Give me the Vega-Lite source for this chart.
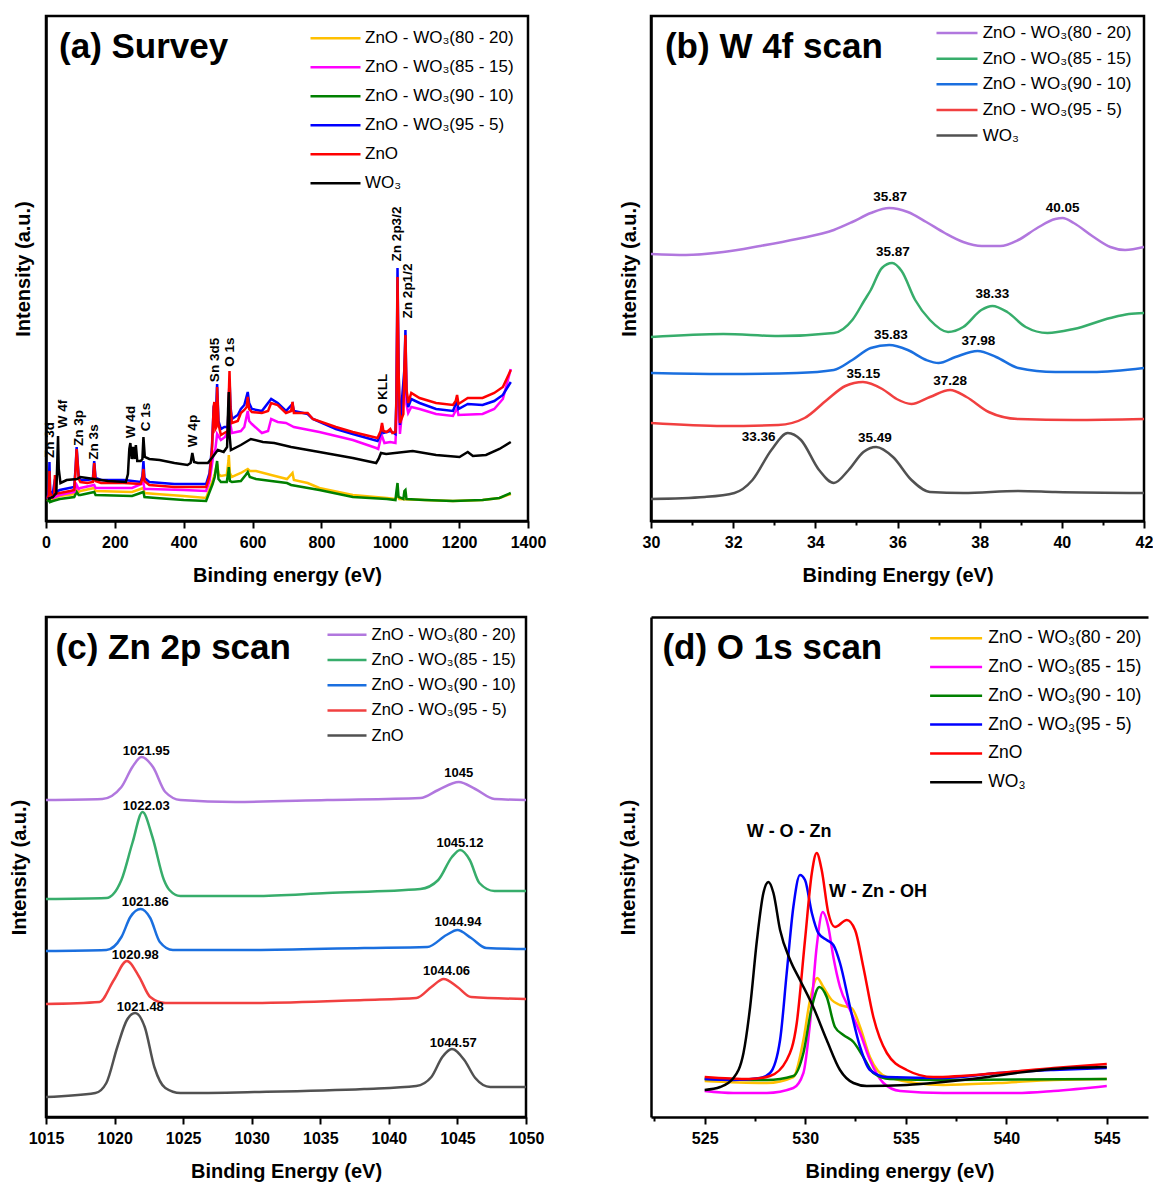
{
"$schema": "https://vega.github.io/schema/vega-lite/v6.json",
"background": "white",
"padding": {"left": 7, "top": 14, "right": 0, "bottom": 0},
"config": {
 "view": {"stroke": "black", "strokeWidth": 2.5},
 "font": "Liberation Sans",
 "axis": {"domainColor": "black", "domainWidth": 2.5, "tickColor": "black", "tickWidth": 2, "labelFont": "Liberation Sans", "labelFontWeight": "bold", "labelFontSize": 16, "labelColor": "black", "titleFont": "Liberation Sans", "titleFontWeight": "bold", "titleFontSize": 20, "titleColor": "black", "grid": false, "labelFlush": false, "labelOverlap": false},
 "legend": {"orient": "none", "symbolStrokeWidth": 2.5, "labelFont": "Liberation Sans", "labelColor": "black", "padding": 0, "symbolSize": 400},
 "text": {"font": "Liberation Sans", "fontWeight": "bold", "color": "black"}
},
"columns": 2,
"spacing": {"row": 96, "column": 123},
"bounds": "flush",
"align": "each",
"resolve": {"scale": {"x": "independent", "y": "independent", "color": "independent"}, "legend": {"color": "independent"}, "axis": {"x": "independent", "y": "independent"}},
"concat": [
{
"width": 482, "height": 505,
"layer": [
{
"data": {"values": [
{"s":"o","x":5,"y":18},{"s":"o","x":10,"y":24},{"s":"o","x":12,"y":19},{"s":"o","x":20,"y":20},{"s":"o","x":40,"y":23},{"s":"o","x":82,"y":25},{"s":"o","x":89,"y":30},{"s":"o","x":95,"y":27},{"s":"o","x":100,"y":28},{"s":"o","x":140,"y":31},{"s":"o","x":144,"y":28},{"s":"o","x":250,"y":27},{"s":"o","x":283,"y":31},{"s":"o","x":286,"y":26},{"s":"o","x":320,"y":25},{"s":"o","x":400,"y":23},{"s":"o","x":465,"y":21},{"s":"o","x":475,"y":30},{"s":"o","x":484,"y":38},{"s":"o","x":490,"y":45},{"s":"o","x":497,"y":55},{"s":"o","x":501,"y":45},{"s":"o","x":508,"y":43},{"s":"o","x":525,"y":44},{"s":"o","x":530,"y":58},{"s":"o","x":531,"y":64},{"s":"o","x":534,"y":46},{"s":"o","x":540,"y":42},{"s":"o","x":566,"y":46},{"s":"o","x":586,"y":50},{"s":"o","x":592,"y":48},{"s":"o","x":610,"y":48},{"s":"o","x":654,"y":44},{"s":"o","x":700,"y":40},{"s":"o","x":716,"y":46},{"s":"o","x":720,"y":39},{"s":"o","x":760,"y":36},{"s":"o","x":794,"y":31},{"s":"o","x":891,"y":24},{"s":"o","x":990,"y":21},{"s":"o","x":1015,"y":20},{"s":"o","x":1021,"y":24},{"s":"o","x":1026,"y":20},{"s":"o","x":1100,"y":19},{"s":"o","x":1182,"y":18},{"s":"o","x":1268,"y":19},{"s":"o","x":1317,"y":21},{"s":"o","x":1350,"y":25},
{"s":"g","x":5,"y":17},{"s":"g","x":10,"y":22},{"s":"g","x":12,"y":17},{"s":"g","x":20,"y":18},{"s":"g","x":40,"y":20},{"s":"g","x":82,"y":22},{"s":"g","x":89,"y":27},{"s":"g","x":95,"y":24},{"s":"g","x":100,"y":24},{"s":"g","x":140,"y":27},{"s":"g","x":144,"y":24},{"s":"g","x":250,"y":23},{"s":"g","x":283,"y":27},{"s":"g","x":286,"y":22},{"s":"g","x":320,"y":21},{"s":"g","x":400,"y":19},{"s":"g","x":465,"y":18},{"s":"g","x":475,"y":27},{"s":"g","x":484,"y":35},{"s":"g","x":490,"y":42},{"s":"g","x":497,"y":58},{"s":"g","x":501,"y":40},{"s":"g","x":508,"y":37},{"s":"g","x":525,"y":37},{"s":"g","x":530,"y":48},{"s":"g","x":531,"y":52},{"s":"g","x":534,"y":38},{"s":"g","x":540,"y":37},{"s":"g","x":566,"y":38},{"s":"g","x":580,"y":44},{"s":"g","x":586,"y":47},{"s":"g","x":592,"y":42},{"s":"g","x":610,"y":40},{"s":"g","x":654,"y":38},{"s":"g","x":700,"y":36},{"s":"g","x":712,"y":34},{"s":"g","x":794,"y":29},{"s":"g","x":891,"y":22},{"s":"g","x":990,"y":20},{"s":"g","x":1015,"y":19},{"s":"g","x":1018,"y":28},{"s":"g","x":1021,"y":36},{"s":"g","x":1024,"y":22},{"s":"g","x":1038,"y":20},{"s":"g","x":1041,"y":28},{"s":"g","x":1044,"y":29},{"s":"g","x":1047,"y":20},{"s":"g","x":1100,"y":19},{"s":"g","x":1182,"y":18},{"s":"g","x":1268,"y":19},{"s":"g","x":1317,"y":21},{"s":"g","x":1350,"y":26},
{"s":"m","x":5,"y":20},{"s":"m","x":10,"y":28},{"s":"m","x":12,"y":22},{"s":"m","x":20,"y":21},{"s":"m","x":40,"y":24},{"s":"m","x":82,"y":27},{"s":"m","x":89,"y":34},{"s":"m","x":95,"y":30},{"s":"m","x":100,"y":31},{"s":"m","x":140,"y":34},{"s":"m","x":144,"y":31},{"s":"m","x":250,"y":31},{"s":"m","x":283,"y":36},{"s":"m","x":286,"y":30},{"s":"m","x":300,"y":30},{"s":"m","x":400,"y":29},{"s":"m","x":465,"y":28},{"s":"m","x":475,"y":38},{"s":"m","x":487,"y":66},{"s":"m","x":492,"y":70},{"s":"m","x":497,"y":85},{"s":"m","x":508,"y":79},{"s":"m","x":520,"y":82},{"s":"m","x":531,"y":90},{"s":"m","x":533,"y":100},{"s":"m","x":540,"y":86},{"s":"m","x":566,"y":88},{"s":"m","x":576,"y":92},{"s":"m","x":586,"y":108},{"s":"m","x":590,"y":98},{"s":"m","x":598,"y":95},{"s":"m","x":627,"y":86},{"s":"m","x":645,"y":88},{"s":"m","x":654,"y":100},{"s":"m","x":673,"y":97},{"s":"m","x":697,"y":96},{"s":"m","x":720,"y":92},{"s":"m","x":794,"y":87},{"s":"m","x":891,"y":79},{"s":"m","x":959,"y":71},{"s":"m","x":965,"y":70},{"s":"m","x":972,"y":80},{"s":"m","x":976,"y":83},{"s":"m","x":983,"y":76},{"s":"m","x":1000,"y":77},{"s":"m","x":1015,"y":76},{"s":"m","x":1018,"y":100},{"s":"m","x":1021,"y":225},{"s":"m","x":1024,"y":130},{"s":"m","x":1028,"y":85},{"s":"m","x":1041,"y":130},{"s":"m","x":1044,"y":170},{"s":"m","x":1047,"y":115},{"s":"m","x":1052,"y":106},{"s":"m","x":1061,"y":112},{"s":"m","x":1085,"y":110},{"s":"m","x":1133,"y":105},{"s":"m","x":1182,"y":103},{"s":"m","x":1194,"y":111},{"s":"m","x":1198,"y":104},{"s":"m","x":1268,"y":105},{"s":"m","x":1302,"y":110},{"s":"m","x":1327,"y":120},{"s":"m","x":1350,"y":150},
{"s":"b","x":5,"y":21},{"s":"b","x":8,"y":28},{"s":"b","x":10,"y":57},{"s":"b","x":12,"y":28},{"s":"b","x":19,"y":24},{"s":"b","x":26,"y":40},{"s":"b","x":28,"y":27},{"s":"b","x":40,"y":29},{"s":"b","x":82,"y":32},{"s":"b","x":86,"y":52},{"s":"b","x":89,"y":72},{"s":"b","x":92,"y":57},{"s":"b","x":95,"y":43},{"s":"b","x":100,"y":39},{"s":"b","x":120,"y":39},{"s":"b","x":136,"y":40},{"s":"b","x":140,"y":58},{"s":"b","x":144,"y":41},{"s":"b","x":160,"y":39},{"s":"b","x":227,"y":39},{"s":"b","x":275,"y":37},{"s":"b","x":280,"y":43},{"s":"b","x":283,"y":58},{"s":"b","x":286,"y":41},{"s":"b","x":300,"y":37},{"s":"b","x":373,"y":35},{"s":"b","x":465,"y":35},{"s":"b","x":475,"y":46},{"s":"b","x":482,"y":72},{"s":"b","x":487,"y":112},{"s":"b","x":489,"y":115},{"s":"b","x":492,"y":93},{"s":"b","x":497,"y":135},{"s":"b","x":501,"y":98},{"s":"b","x":508,"y":90},{"s":"b","x":518,"y":92},{"s":"b","x":528,"y":92},{"s":"b","x":531,"y":118},{"s":"b","x":533,"y":140},{"s":"b","x":536,"y":112},{"s":"b","x":540,"y":100},{"s":"b","x":557,"y":104},{"s":"b","x":566,"y":110},{"s":"b","x":576,"y":114},{"s":"b","x":586,"y":127},{"s":"b","x":590,"y":116},{"s":"b","x":598,"y":110},{"s":"b","x":627,"y":108},{"s":"b","x":654,"y":120},{"s":"b","x":673,"y":116},{"s":"b","x":697,"y":108},{"s":"b","x":716,"y":115},{"s":"b","x":720,"y":108},{"s":"b","x":760,"y":105},{"s":"b","x":775,"y":100},{"s":"b","x":842,"y":90},{"s":"b","x":891,"y":85},{"s":"b","x":963,"y":78},{"s":"b","x":972,"y":85},{"s":"b","x":976,"y":93},{"s":"b","x":980,"y":86},{"s":"b","x":1000,"y":88},{"s":"b","x":1015,"y":85},{"s":"b","x":1018,"y":125},{"s":"b","x":1021,"y":251},{"s":"b","x":1024,"y":150},{"s":"b","x":1028,"y":94},{"s":"b","x":1041,"y":150},{"s":"b","x":1044,"y":189},{"s":"b","x":1047,"y":128},{"s":"b","x":1052,"y":112},{"s":"b","x":1061,"y":120},{"s":"b","x":1085,"y":116},{"s":"b","x":1133,"y":110},{"s":"b","x":1182,"y":108},{"s":"b","x":1194,"y":118},{"s":"b","x":1198,"y":110},{"s":"b","x":1225,"y":115},{"s":"b","x":1268,"y":114},{"s":"b","x":1302,"y":118},{"s":"b","x":1327,"y":124},{"s":"b","x":1350,"y":137},
{"s":"r","x":5,"y":21},{"s":"r","x":8,"y":24},{"s":"r","x":10,"y":48},{"s":"r","x":12,"y":26},{"s":"r","x":19,"y":22},{"s":"r","x":24,"y":24},{"s":"r","x":26,"y":44},{"s":"r","x":28,"y":25},{"s":"r","x":40,"y":26},{"s":"r","x":70,"y":28},{"s":"r","x":82,"y":29},{"s":"r","x":86,"y":50},{"s":"r","x":89,"y":70},{"s":"r","x":92,"y":55},{"s":"r","x":95,"y":40},{"s":"r","x":100,"y":37},{"s":"r","x":120,"y":36},{"s":"r","x":136,"y":37},{"s":"r","x":140,"y":56},{"s":"r","x":144,"y":38},{"s":"r","x":160,"y":36},{"s":"r","x":227,"y":36},{"s":"r","x":275,"y":35},{"s":"r","x":280,"y":40},{"s":"r","x":283,"y":50},{"s":"r","x":286,"y":38},{"s":"r","x":300,"y":34},{"s":"r","x":373,"y":32},{"s":"r","x":465,"y":32},{"s":"r","x":475,"y":43},{"s":"r","x":482,"y":69},{"s":"r","x":487,"y":112},{"s":"r","x":489,"y":117},{"s":"r","x":492,"y":90},{"s":"r","x":495,"y":92},{"s":"r","x":497,"y":132},{"s":"r","x":501,"y":95},{"s":"r","x":508,"y":84},{"s":"r","x":518,"y":86},{"s":"r","x":528,"y":88},{"s":"r","x":531,"y":125},{"s":"r","x":533,"y":148},{"s":"r","x":536,"y":110},{"s":"r","x":540,"y":96},{"s":"r","x":557,"y":98},{"s":"r","x":566,"y":106},{"s":"r","x":576,"y":109},{"s":"r","x":583,"y":112},{"s":"r","x":586,"y":122},{"s":"r","x":590,"y":110},{"s":"r","x":598,"y":107},{"s":"r","x":627,"y":106},{"s":"r","x":645,"y":108},{"s":"r","x":654,"y":116},{"s":"r","x":673,"y":114},{"s":"r","x":697,"y":106},{"s":"r","x":712,"y":108},{"s":"r","x":716,"y":117},{"s":"r","x":720,"y":106},{"s":"r","x":760,"y":106},{"s":"r","x":775,"y":100},{"s":"r","x":842,"y":92},{"s":"r","x":891,"y":87},{"s":"r","x":963,"y":81},{"s":"r","x":972,"y":88},{"s":"r","x":976,"y":96},{"s":"r","x":980,"y":88},{"s":"r","x":990,"y":87},{"s":"r","x":1000,"y":90},{"s":"r","x":1006,"y":86},{"s":"r","x":1015,"y":87},{"s":"r","x":1018,"y":120},{"s":"r","x":1021,"y":242},{"s":"r","x":1024,"y":150},{"s":"r","x":1028,"y":96},{"s":"r","x":1038,"y":105},{"s":"r","x":1041,"y":150},{"s":"r","x":1044,"y":184},{"s":"r","x":1047,"y":130},{"s":"r","x":1052,"y":116},{"s":"r","x":1061,"y":126},{"s":"r","x":1085,"y":121},{"s":"r","x":1133,"y":116},{"s":"r","x":1182,"y":114},{"s":"r","x":1190,"y":118},{"s":"r","x":1194,"y":124},{"s":"r","x":1198,"y":115},{"s":"r","x":1225,"y":121},{"s":"r","x":1268,"y":121},{"s":"r","x":1302,"y":126},{"s":"r","x":1327,"y":132},{"s":"r","x":1350,"y":149},
{"s":"k","x":5,"y":20},{"s":"k","x":20,"y":22},{"s":"k","x":30,"y":26},{"s":"k","x":33,"y":60},{"s":"k","x":35,"y":83},{"s":"k","x":37,"y":50},{"s":"k","x":42,"y":36},{"s":"k","x":60,"y":39},{"s":"k","x":90,"y":40},{"s":"k","x":100,"y":42},{"s":"k","x":140,"y":40},{"s":"k","x":180,"y":38},{"s":"k","x":232,"y":37},{"s":"k","x":238,"y":45},{"s":"k","x":242,"y":70},{"s":"k","x":245,"y":76},{"s":"k","x":249,"y":60},{"s":"k","x":253,"y":72},{"s":"k","x":257,"y":60},{"s":"k","x":261,"y":74},{"s":"k","x":265,"y":58},{"s":"k","x":275,"y":58},{"s":"k","x":280,"y":60},{"s":"k","x":283,"y":82},{"s":"k","x":287,"y":62},{"s":"k","x":300,"y":60},{"s":"k","x":330,"y":59},{"s":"k","x":373,"y":56},{"s":"k","x":411,"y":54},{"s":"k","x":420,"y":56},{"s":"k","x":425,"y":66},{"s":"k","x":430,"y":57},{"s":"k","x":441,"y":56},{"s":"k","x":470,"y":56},{"s":"k","x":484,"y":62},{"s":"k","x":499,"y":69},{"s":"k","x":516,"y":67},{"s":"k","x":526,"y":72},{"s":"k","x":529,"y":110},{"s":"k","x":531,"y":127},{"s":"k","x":533,"y":85},{"s":"k","x":537,"y":69},{"s":"k","x":566,"y":74},{"s":"k","x":595,"y":80},{"s":"k","x":630,"y":77},{"s":"k","x":663,"y":76},{"s":"k","x":712,"y":72},{"s":"k","x":794,"y":67},{"s":"k","x":891,"y":61},{"s":"k","x":959,"y":56},{"s":"k","x":966,"y":60},{"s":"k","x":973,"y":66},{"s":"k","x":988,"y":65},{"s":"k","x":1065,"y":68},{"s":"k","x":1133,"y":64},{"s":"k","x":1201,"y":62},{"s":"k","x":1225,"y":67},{"s":"k","x":1240,"y":63},{"s":"k","x":1278,"y":64},{"s":"k","x":1317,"y":70},{"s":"k","x":1350,"y":77}
]},
"mark": {"type": "line", "strokeWidth": 2.5, "clip": true},
"encoding": {
 "x": {"field": "x", "type": "quantitative", "scale": {"domain": [0, 1400], "nice": false, "zero": false},
  "axis": {"title": "Binding energy (eV)", "format": "d", "values": [0,100,200,300,400,500,600,700,800,900,1000,1100,1200,1300,1400], "labelExpr": "datum.value % 200 === 0 ? datum.label : ''", "tickSize": {"condition": {"test": "datum.value % 200 === 0", "value": 7}, "value": 4}, "labelPadding": 6, "titlePadding": 15}},
 "y": {"field": "y", "type": "quantitative", "scale": {"domain": [-2, 503], "nice": false, "zero": false}, "axis": {"title": "Intensity (a.u.)", "ticks": false, "labels": false, "titlePadding": 13}},
 "color": {"field": "s", "type": "nominal", "scale": {"domain": ["o","m","g","b","r","k"], "range": ["#FFC000","#FF00FF","#008000","#0000FF","#FF0000","#000000"]},
  "legend": {"title": null, "orient": "none", "legendX": 278, "legendY": 10.7, "symbolType": "M-2.5,0H2.5", "labelOffset": 18, "labelFontSize": 17, "rowPadding": 9, "labelExpr": "datum.label === 'o' ? 'ZnO - WO₃(80 - 20)' : datum.label === 'm' ? 'ZnO - WO₃(85 - 15)' : datum.label === 'g' ? 'ZnO - WO₃(90 - 10)' : datum.label === 'b' ? 'ZnO - WO₃(95 - 5)' : datum.label === 'r' ? 'ZnO' : 'WO₃'"}}
}
},
{
"data": {"values": [
{"x":11.6,"y":79,"t":"Zn 3d"},{"x":48.5,"y":105,"t":"W 4f"},{"x":96.7,"y":91,"t":"Zn 3p"},{"x":139.4,"y":77,"t":"Zn 3s"},{"x":246,"y":97,"t":"W 4d"},{"x":290.5,"y":102,"t":"C 1s"},{"x":428,"y":88,"t":"W 4p"},{"x":491,"y":159,"t":"Sn 3d5"},{"x":534.5,"y":167,"t":"O 1s"},{"x":978,"y":125,"t":"O KLL"},{"x":1019,"y":285,"t":"Zn 2p3/2"},{"x":1051,"y":228,"t":"Zn 2p1/2"}
]},
"mark": {"type": "text", "angle": 270, "fontSize": 13.5, "fontWeight": "bold", "align": "center", "baseline": "middle"},
"encoding": {
 "x": {"field": "x", "type": "quantitative", "scale": {"domain": [0, 1400], "nice": false, "zero": false}},
 "y": {"field": "y", "type": "quantitative", "scale": {"domain": [-2, 503], "nice": false, "zero": false}},
 "text": {"field": "t"}
}
},
{
"data": {"values": [{"x": 37.8, "y": 472, "t": "(a) Survey"}]},
"mark": {"type": "text", "fontSize": 35, "fontWeight": "bold", "align": "left", "baseline": "middle"},
"encoding": {
 "x": {"field": "x", "type": "quantitative", "scale": {"domain": [0, 1400], "nice": false, "zero": false}},
 "y": {"field": "y", "type": "quantitative", "scale": {"domain": [-2, 503], "nice": false, "zero": false}},
 "text": {"field": "t"}
}
}
]
},
{
"width": 493, "height": 505,
"layer": [
{
"data": {"values": [
{"s":"p","x":30,"y":267},{"s":"p","x":30.85,"y":266},{"s":"p","x":31.76,"y":269},{"s":"p","x":32.65,"y":275},{"s":"p","x":33.55,"y":282},{"s":"p","x":34.45,"y":291},{"s":"p","x":34.9,"y":299},{"s":"p","x":35.35,"y":308},{"s":"p","x":35.8,"y":313},{"s":"p","x":36.25,"y":309},{"s":"p","x":36.7,"y":299},{"s":"p","x":37.15,"y":288},{"s":"p","x":37.6,"y":279},{"s":"p","x":38.05,"y":275},{"s":"p","x":38.5,"y":275},{"s":"p","x":38.94,"y":281},{"s":"p","x":39.4,"y":293},{"s":"p","x":39.84,"y":302},{"s":"p","x":40.02,"y":303},{"s":"p","x":40.29,"y":298},{"s":"p","x":40.74,"y":285},{"s":"p","x":41.18,"y":274},{"s":"p","x":41.54,"y":271},{"s":"p","x":42,"y":274},
{"s":"g","x":30,"y":184},{"s":"g","x":31.76,"y":187},{"s":"g","x":33.1,"y":185},{"s":"g","x":34.45,"y":188},{"s":"g","x":34.9,"y":201},{"s":"g","x":35.2,"y":221},{"s":"g","x":35.35,"y":231},{"s":"g","x":35.62,"y":253},{"s":"g","x":35.87,"y":258},{"s":"g","x":36.1,"y":250},{"s":"g","x":36.43,"y":221},{"s":"g","x":36.79,"y":201},{"s":"g","x":37.23,"y":189},{"s":"g","x":37.6,"y":194},{"s":"g","x":38.04,"y":211},{"s":"g","x":38.31,"y":215},{"s":"g","x":38.67,"y":209},{"s":"g","x":39.12,"y":194},{"s":"g","x":39.65,"y":188},{"s":"g","x":40.29,"y":192},{"s":"g","x":41.18,"y":203},{"s":"g","x":41.63,"y":207},{"s":"g","x":42,"y":208},
{"s":"b","x":30,"y":148},{"s":"b","x":31.76,"y":147},{"s":"b","x":33.55,"y":148},{"s":"b","x":34.45,"y":151},{"s":"b","x":34.9,"y":161},{"s":"b","x":35.35,"y":173},{"s":"b","x":35.8,"y":176},{"s":"b","x":36.25,"y":171},{"s":"b","x":36.7,"y":161},{"s":"b","x":37.0,"y":158},{"s":"b","x":37.41,"y":164},{"s":"b","x":37.95,"y":170},{"s":"b","x":38.4,"y":164},{"s":"b","x":38.94,"y":153},{"s":"b","x":39.84,"y":149},{"s":"b","x":40.74,"y":149},{"s":"b","x":42,"y":153},
{"s":"r","x":30,"y":98},{"s":"r","x":31.76,"y":95},{"s":"r","x":33.1,"y":96},{"s":"r","x":33.74,"y":103},{"s":"r","x":34.28,"y":121},{"s":"r","x":34.73,"y":135},{"s":"r","x":35.16,"y":139},{"s":"r","x":35.63,"y":132},{"s":"r","x":35.98,"y":122},{"s":"r","x":36.34,"y":117},{"s":"r","x":36.79,"y":124},{"s":"r","x":37.28,"y":131},{"s":"r","x":37.68,"y":124},{"s":"r","x":38.22,"y":109},{"s":"r","x":38.94,"y":102},{"s":"r","x":40.29,"y":101},{"s":"r","x":42,"y":102},
{"s":"w","x":30,"y":22},{"s":"w","x":31.31,"y":24},{"s":"w","x":32.03,"y":28},{"s":"w","x":32.47,"y":41},{"s":"w","x":32.93,"y":71},{"s":"w","x":33.33,"y":88},{"s":"w","x":33.65,"y":81},{"s":"w","x":34.09,"y":51},{"s":"w","x":34.45,"y":38},{"s":"w","x":34.81,"y":51},{"s":"w","x":35.17,"y":69},{"s":"w","x":35.48,"y":74},{"s":"w","x":35.89,"y":64},{"s":"w","x":36.34,"y":41},{"s":"w","x":36.79,"y":29},{"s":"w","x":37.6,"y":28},{"s":"w","x":38.94,"y":30},{"s":"w","x":39.84,"y":29},{"s":"w","x":42,"y":28}
]},
"mark": {"type": "line", "strokeWidth": 2.5, "interpolate": "monotone", "clip": true},
"encoding": {
 "x": {"field": "x", "type": "quantitative", "scale": {"domain": [30, 42], "nice": false, "zero": false},
  "axis": {"title": "Binding Energy (eV)", "format": "d", "values": [30,31,32,33,34,35,36,37,38,39,40,41,42], "labelExpr": "datum.value % 2 === 0 ? datum.label : ''", "tickSize": {"condition": {"test": "datum.value % 2 === 0", "value": 7}, "value": 4}, "labelPadding": 6, "titlePadding": 15}},
 "y": {"field": "y", "type": "quantitative", "scale": {"domain": [0, 505], "nice": false, "zero": false}, "axis": {"title": "Intensity (a.u.)", "ticks": false, "labels": false, "titlePadding": 12}},
 "color": {"field": "s", "type": "nominal", "scale": {"domain": ["p","g","b","r","w"], "range": ["#B177DE","#37AD6B","#1A6FDF","#F14040","#515151"]},
  "legend": {"title": null, "orient": "none", "legendX": 294.5, "legendY": 5.6, "symbolType": "M-2.05,0H2.05", "labelOffset": 14.2, "labelFontSize": 17, "rowPadding": 5.6, "labelExpr": "datum.label === 'p' ? 'ZnO - WO₃(80 - 20)' : datum.label === 'g' ? 'ZnO - WO₃(85 - 15)' : datum.label === 'b' ? 'ZnO - WO₃(90 - 10)' : datum.label === 'r' ? 'ZnO - WO₃(95 - 5)' : 'WO₃'"}}
}
},
{
"data": {"values": [
{"x":35.82,"y":324,"t":"35.87"},{"x":40.02,"y":313,"t":"40.05"},{"x":35.89,"y":269,"t":"35.87"},{"x":38.31,"y":227,"t":"38.33"},{"x":35.84,"y":186,"t":"35.83"},{"x":37.97,"y":180,"t":"37.98"},{"x":35.17,"y":147,"t":"35.15"},{"x":37.28,"y":140,"t":"37.28"},{"x":32.62,"y":84,"t":"33.36"},{"x":35.45,"y":83,"t":"35.49"}
]},
"mark": {"type": "text", "fontSize": 13.5, "fontWeight": "bold", "align": "center", "baseline": "middle"},
"encoding": {
 "x": {"field": "x", "type": "quantitative", "scale": {"domain": [30, 42], "nice": false, "zero": false}},
 "y": {"field": "y", "type": "quantitative", "scale": {"domain": [0, 505], "nice": false, "zero": false}},
 "text": {"field": "t"}
}
},
{
"data": {"values": [{"x": 30.34, "y": 474, "t": "(b) W 4f scan"}]},
"mark": {"type": "text", "fontSize": 35, "fontWeight": "bold", "align": "left", "baseline": "middle"},
"encoding": {
 "x": {"field": "x", "type": "quantitative", "scale": {"domain": [30, 42], "nice": false, "zero": false}},
 "y": {"field": "y", "type": "quantitative", "scale": {"domain": [0, 505], "nice": false, "zero": false}},
 "text": {"field": "t"}
}
}
]
},
{
"width": 480, "height": 500,
"layer": [
{
"data": {"values": [
{"s":"p","x":1015,"y":318},{"s":"p","x":1019.1,"y":319},{"s":"p","x":1020.5,"y":331},{"s":"p","x":1021.3,"y":351},{"s":"p","x":1021.96,"y":361},{"s":"p","x":1022.8,"y":351},{"s":"p","x":1023.7,"y":326},{"s":"p","x":1024.8,"y":318},{"s":"p","x":1028.8,"y":316},{"s":"p","x":1035.5,"y":318},{"s":"p","x":1042.3,"y":320},{"s":"p","x":1043.6,"y":328},{"s":"p","x":1045.1,"y":336},{"s":"p","x":1046.3,"y":329},{"s":"p","x":1047.7,"y":319},{"s":"p","x":1050,"y":318},
{"s":"g","x":1015,"y":219},{"s":"g","x":1019.4,"y":220},{"s":"g","x":1020.5,"y":238},{"s":"g","x":1021.3,"y":275},{"s":"g","x":1022.04,"y":306},{"s":"g","x":1022.76,"y":281},{"s":"g","x":1023.6,"y":238},{"s":"g","x":1024,"y":228},{"s":"g","x":1024.8,"y":222},{"s":"g","x":1030.2,"y":222},{"s":"g","x":1035.5,"y":225},{"s":"g","x":1042.3,"y":229},{"s":"g","x":1043.6,"y":238},{"s":"g","x":1044.6,"y":261},{"s":"g","x":1045.2,"y":268},{"s":"g","x":1045.9,"y":258},{"s":"g","x":1046.6,"y":235},{"s":"g","x":1047.7,"y":227},{"s":"g","x":1050,"y":227},
{"s":"b","x":1015,"y":167},{"s":"b","x":1019.4,"y":168},{"s":"b","x":1020.5,"y":181},{"s":"b","x":1021.15,"y":201},{"s":"b","x":1021.9,"y":209},{"s":"b","x":1022.6,"y":200},{"s":"b","x":1023.3,"y":176},{"s":"b","x":1024.25,"y":168},{"s":"b","x":1030.2,"y":168},{"s":"b","x":1038.2,"y":170},{"s":"b","x":1042.8,"y":171},{"s":"b","x":1044.2,"y":183},{"s":"b","x":1045,"y":188},{"s":"b","x":1046,"y":180},{"s":"b","x":1047.1,"y":170},{"s":"b","x":1050,"y":169},
{"s":"r","x":1015,"y":114},{"s":"r","x":1018.9,"y":116},{"s":"r","x":1019.95,"y":138},{"s":"r","x":1020.9,"y":157},{"s":"r","x":1021.8,"y":141},{"s":"r","x":1022.6,"y":121},{"s":"r","x":1023.7,"y":115},{"s":"r","x":1030.2,"y":115},{"s":"r","x":1038.2,"y":118},{"s":"r","x":1042,"y":120},{"s":"r","x":1043.1,"y":131},{"s":"r","x":1044,"y":139},{"s":"r","x":1045,"y":131},{"s":"r","x":1046,"y":121},{"s":"r","x":1050,"y":119},
{"s":"z","x":1015,"y":21},{"s":"z","x":1018.6,"y":25},{"s":"z","x":1019.4,"y":35},{"s":"z","x":1020.2,"y":71},{"s":"z","x":1020.9,"y":98},{"s":"z","x":1021.5,"y":105},{"s":"z","x":1022.2,"y":91},{"s":"z","x":1022.9,"y":51},{"s":"z","x":1023.7,"y":30},{"s":"z","x":1024.8,"y":25},{"s":"z","x":1030.2,"y":26},{"s":"z","x":1038.2,"y":29},{"s":"z","x":1042,"y":32},{"s":"z","x":1043.1,"y":41},{"s":"z","x":1043.9,"y":61},{"s":"z","x":1044.6,"y":69},{"s":"z","x":1045.5,"y":58},{"s":"z","x":1046.3,"y":40},{"s":"z","x":1047.4,"y":31},{"s":"z","x":1050,"y":31}
]},
"mark": {"type": "line", "strokeWidth": 2.5, "interpolate": "monotone", "clip": true},
"encoding": {
 "x": {"field": "x", "type": "quantitative", "scale": {"domain": [1015, 1050], "nice": false, "zero": false},
  "axis": {"title": "Binding Energy (eV)", "format": "d", "values": [1015,1017.5,1020,1022.5,1025,1027.5,1030,1032.5,1035,1037.5,1040,1042.5,1045,1047.5,1050], "labelExpr": "datum.value % 5 === 0 ? datum.label : ''", "tickSize": {"condition": {"test": "datum.value % 5 === 0", "value": 7}, "value": 4}, "labelPadding": 6, "titlePadding": 15}},
 "y": {"field": "y", "type": "quantitative", "scale": {"domain": [1, 501], "nice": false, "zero": false}, "axis": {"title": "Intensity (a.u.)", "ticks": false, "labels": false, "titlePadding": 17}},
 "color": {"field": "s", "type": "nominal", "scale": {"domain": ["p","g","b","r","z"], "range": ["#B177DE","#37AD6B","#1A6FDF","#F14040","#515151"]},
  "legend": {"title": null, "orient": "none", "legendX": 289.5, "legendY": 6.3, "symbolType": "M-1.95,0H1.95", "labelOffset": 13.1, "labelFontSize": 16.5, "rowPadding": 5.2, "labelExpr": "datum.label === 'p' ? 'ZnO - WO₃(80 - 20)' : datum.label === 'g' ? 'ZnO - WO₃(85 - 15)' : datum.label === 'b' ? 'ZnO - WO₃(90 - 10)' : datum.label === 'r' ? 'ZnO - WO₃(95 - 5)' : 'ZnO'"}}
}
},
{
"data": {"values": [
{"x":1022.31,"y":367,"t":"1021.95"},{"x":1045.09,"y":345,"t":"1045"},{"x":1022.31,"y":312,"t":"1022.03"},{"x":1045.18,"y":275,"t":"1045.12"},{"x":1022.23,"y":216,"t":"1021.86"},{"x":1045.04,"y":196,"t":"1044.94"},{"x":1021.51,"y":163,"t":"1020.98"},{"x":1044.21,"y":147,"t":"1044.06"},{"x":1021.88,"y":111,"t":"1021.48"},{"x":1044.69,"y":75,"t":"1044.57"}
]},
"mark": {"type": "text", "fontSize": 13, "fontWeight": "bold", "align": "center", "baseline": "middle"},
"encoding": {
 "x": {"field": "x", "type": "quantitative", "scale": {"domain": [1015, 1050], "nice": false, "zero": false}},
 "y": {"field": "y", "type": "quantitative", "scale": {"domain": [1, 501], "nice": false, "zero": false}},
 "text": {"field": "t"}
}
},
{
"data": {"values": [{"x": 1015.7, "y": 470, "t": "(c) Zn 2p scan"}]},
"mark": {"type": "text", "fontSize": 35, "fontWeight": "bold", "align": "left", "baseline": "middle"},
"encoding": {
 "x": {"field": "x", "type": "quantitative", "scale": {"domain": [1015, 1050], "nice": false, "zero": false}},
 "y": {"field": "y", "type": "quantitative", "scale": {"domain": [1, 501], "nice": false, "zero": false}},
 "text": {"field": "t"}
}
}
]
},
{
"width": 497, "height": 500,
"view": {"stroke": null},
"resolve": {"axis": {"x": "independent"}},
"layer": [
{
"data": {"values": [
{"s":"o","x":525,"y":36},{"s":"o","x":528.09,"y":34},{"s":"o","x":529.41,"y":40},{"s":"o","x":529.91,"y":77},{"s":"o","x":530.24,"y":117},{"s":"o","x":530.6,"y":139},{"s":"o","x":530.9,"y":130},{"s":"o","x":531.32,"y":117},{"s":"o","x":531.73,"y":112},{"s":"o","x":532.31,"y":109},{"s":"o","x":532.73,"y":90},{"s":"o","x":533.22,"y":60},{"s":"o","x":534.06,"y":40},{"s":"o","x":536.87,"y":32},{"s":"o","x":539.6,"y":34},{"s":"o","x":542.35,"y":37},{"s":"o","x":545,"y":38},
{"s":"m","x":525,"y":26},{"s":"m","x":526.43,"y":24},{"s":"m","x":528.09,"y":24},{"s":"m","x":529.41,"y":29},{"s":"m","x":529.91,"y":44},{"s":"m","x":530.24,"y":94},{"s":"m","x":530.57,"y":170},{"s":"m","x":530.87,"y":205},{"s":"m","x":531.15,"y":190},{"s":"m","x":531.4,"y":160},{"s":"m","x":531.73,"y":130},{"s":"m","x":532.23,"y":107},{"s":"m","x":532.73,"y":84},{"s":"m","x":533.22,"y":57},{"s":"m","x":533.89,"y":34},{"s":"m","x":534.72,"y":26},{"s":"m","x":536.87,"y":24},{"s":"m","x":540.5,"y":24},{"s":"m","x":542.35,"y":26},{"s":"m","x":545,"y":31},
{"s":"g","x":525,"y":38},{"s":"g","x":528.09,"y":37},{"s":"g","x":529.41,"y":41},{"s":"g","x":529.91,"y":64},{"s":"g","x":530.33,"y":110},{"s":"g","x":530.7,"y":130},{"s":"g","x":531.07,"y":120},{"s":"g","x":531.48,"y":90},{"s":"g","x":531.9,"y":82},{"s":"g","x":532.4,"y":75},{"s":"g","x":532.89,"y":60},{"s":"g","x":533.39,"y":44},{"s":"g","x":534.2,"y":38},{"s":"g","x":536.87,"y":37},{"s":"g","x":545,"y":38},
{"s":"b","x":525,"y":38},{"s":"b","x":526.43,"y":37},{"s":"b","x":527.75,"y":39},{"s":"b","x":528.25,"y":44},{"s":"b","x":528.75,"y":77},{"s":"b","x":529.08,"y":144},{"s":"b","x":529.41,"y":210},{"s":"b","x":529.74,"y":242},{"s":"b","x":529.99,"y":237},{"s":"b","x":530.33,"y":204},{"s":"b","x":530.65,"y":184},{"s":"b","x":531.07,"y":177},{"s":"b","x":531.4,"y":172},{"s":"b","x":531.73,"y":154},{"s":"b","x":532.23,"y":110},{"s":"b","x":532.73,"y":70},{"s":"b","x":533.22,"y":47},{"s":"b","x":534.06,"y":40},{"s":"b","x":536.87,"y":39},{"s":"b","x":539.6,"y":44},{"s":"b","x":542.35,"y":47},{"s":"b","x":545,"y":49},
{"s":"r","x":525,"y":40},{"s":"r","x":527.26,"y":38},{"s":"r","x":528.25,"y":41},{"s":"r","x":529.08,"y":57},{"s":"r","x":529.58,"y":94},{"s":"r","x":529.99,"y":177},{"s":"r","x":530.33,"y":244},{"s":"r","x":530.57,"y":264},{"s":"r","x":530.82,"y":247},{"s":"r","x":531.15,"y":204},{"s":"r","x":531.48,"y":190},{"s":"r","x":532.07,"y":197},{"s":"r","x":532.48,"y":187},{"s":"r","x":532.89,"y":150},{"s":"r","x":533.39,"y":100},{"s":"r","x":534.06,"y":64},{"s":"r","x":535.05,"y":47},{"s":"r","x":536.37,"y":40},{"s":"r","x":539.6,"y":44},{"s":"r","x":542.35,"y":49},{"s":"r","x":545,"y":53},
{"s":"k","x":525,"y":27},{"s":"k","x":525.77,"y":30},{"s":"k","x":526.43,"y":39},{"s":"k","x":526.93,"y":64},{"s":"k","x":527.26,"y":110},{"s":"k","x":527.6,"y":177},{"s":"k","x":527.92,"y":224},{"s":"k","x":528.17,"y":235},{"s":"k","x":528.42,"y":224},{"s":"k","x":528.75,"y":187},{"s":"k","x":529.25,"y":157},{"s":"k","x":529.74,"y":137},{"s":"k","x":530.4,"y":110},{"s":"k","x":531.07,"y":77},{"s":"k","x":531.73,"y":47},{"s":"k","x":532.4,"y":34},{"s":"k","x":533.06,"y":31},{"s":"k","x":535.04,"y":32},{"s":"k","x":536.87,"y":35},{"s":"k","x":538.7,"y":39},{"s":"k","x":540.5,"y":44},{"s":"k","x":542.35,"y":48},{"s":"k","x":545,"y":50}
]},
"mark": {"type": "line", "strokeWidth": 2.5, "interpolate": "monotone", "clip": true},
"encoding": {
 "x": {"field": "x", "type": "quantitative", "scale": {"domain": [522.33, 547.05], "nice": false, "zero": false},
  "axis": {"title": "Binding energy (eV)", "format": "d", "values": [522.5,525,527.5,530,532.5,535,537.5,540,542.5,545], "labelExpr": "datum.value % 5 === 0 ? datum.label : ''", "tickSize": {"condition": {"test": "datum.value % 5 === 0", "value": 7}, "value": 4}, "labelPadding": 6, "titlePadding": 15}},
 "y": {"field": "y", "type": "quantitative", "scale": {"domain": [0, 500], "nice": false, "zero": false}, "axis": {"title": "Intensity (a.u.)", "ticks": false, "labels": false, "titlePadding": 13}},
 "color": {"field": "s", "type": "nominal", "scale": {"domain": ["o","m","g","b","r","k"], "range": ["#FFC000","#FF00FF","#008000","#0000FF","#FF0000","#000000"]},
  "legend": {"title": null, "orient": "none", "legendX": 293.6, "legendY": 9.7, "symbolType": "M-2.6,0H2.6", "labelOffset": 20.7, "labelFontSize": 17.5, "rowPadding": 8.8, "labelExpr": "datum.label === 'o' ? 'ZnO - WO₃(80 - 20)' : datum.label === 'm' ? 'ZnO - WO₃(85 - 15)' : datum.label === 'g' ? 'ZnO - WO₃(90 - 10)' : datum.label === 'b' ? 'ZnO - WO₃(95 - 5)' : datum.label === 'r' ? 'ZnO' : 'WO₃'"}}
}
},
{
"data": {"values": [{"x": 529.2, "y": 285, "t": "W - O - Zn"}, {"x": 533.62, "y": 225, "t": "W - Zn - OH"}]},
"mark": {"type": "text", "fontSize": 18, "fontWeight": "bold", "align": "center", "baseline": "middle"},
"encoding": {
 "x": {"field": "x", "type": "quantitative", "scale": {"domain": [522.33, 547.05], "nice": false, "zero": false}, "axis": {"orient": "top", "labels": false, "ticks": false, "title": null, "domain": true}},
 "y": {"field": "y", "type": "quantitative", "scale": {"domain": [0, 500], "nice": false, "zero": false}},
 "text": {"field": "t"}
}
},
{
"data": {"values": [{"x": 522.9, "y": 469, "t": "(d) O 1s scan"}]},
"mark": {"type": "text", "fontSize": 35, "fontWeight": "bold", "align": "left", "baseline": "middle"},
"encoding": {
 "x": {"field": "x", "type": "quantitative", "scale": {"domain": [522.33, 547.05], "nice": false, "zero": false}, "axis": null},
 "y": {"field": "y", "type": "quantitative", "scale": {"domain": [0, 500], "nice": false, "zero": false}},
 "text": {"field": "t"}
}
}
]
}
]
}
